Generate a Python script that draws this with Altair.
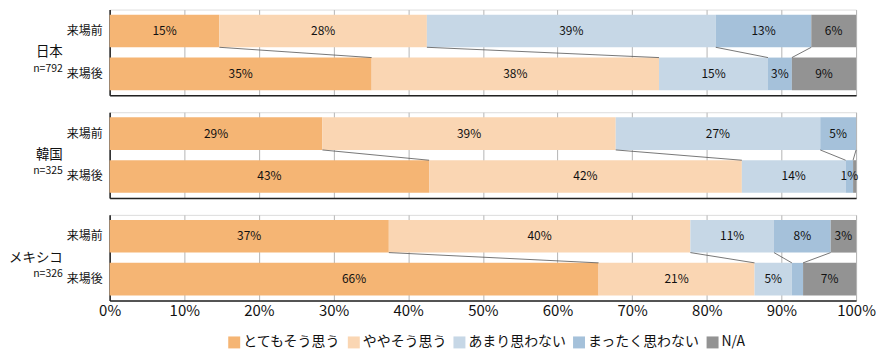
import altair as alt
import pandas as pd

FONT = "Noto Sans CJK JP"

groups = ["日本", "韓国", "メキシコ"]
ns = ["n=792", "n=325", "n=326"]
periods = ["来場前", "来場後"]
categories = ["とてもそう思う", "ややそう思う", "あまり思わない", "まったく思わない", "N/A"]
colors = ["#F5B574", "#FAD6B3", "#C6D7E6", "#A5C1DA", "#939393"]

jp_before = [14.7, 27.8, 38.7, 12.8, 6.0]
jp_after = [35.1, 38.5, 14.6, 3.2, 8.6]
kr_before = [28.5, 39.3, 27.4, 4.8, 0.0]
kr_after = [42.8, 41.9, 13.9, 1.0, 0.4]
mx_before = [37.4, 40.4, 11.2, 7.6, 3.4]
mx_after = [65.5, 20.9, 5.0, 1.5, 7.1]

jp_before_lbl = ["15%", "28%", "39%", "13%", "6%"]
jp_after_lbl = ["35%", "38%", "15%", "3%", "9%"]
kr_before_lbl = ["29%", "39%", "27%", "5%", ""]
kr_after_lbl = ["43%", "42%", "14%", "1%", ""]
mx_before_lbl = ["37%", "40%", "11%", "8%", "3%"]
mx_after_lbl = ["66%", "21%", "5%", "", "7%"]

values = {
    "日本": (jp_before, jp_after, jp_before_lbl, jp_after_lbl),
    "韓国": (kr_before, kr_after, kr_before_lbl, kr_after_lbl),
    "メキシコ": (mx_before, mx_after, mx_before_lbl, mx_after_lbl),
}

PAD = 0.12
W, H = 749, 86


def panel(gi, last):
    g = groups[gi]
    before, after, lb, la = values[g]
    rows = []
    for pi, (vals, lbls) in enumerate([(before, lb), (after, la)]):
        s = 0.0
        for ci, (v, t) in enumerate(zip(vals, lbls)):
            rows.append(dict(period=periods[pi], cat=categories[ci], order=ci,
                             start=s, end=s + v, label=t, idx=pi))
            s += v
    df = pd.DataFrame(rows)
    conn = []
    sb = sa = 0.0
    for k in range(4):
        sb += before[k]
        sa += after[k]
        conn.append(dict(xb=sb, xa=sa))
    cdf = pd.DataFrame(conn)
    pdf = pd.DataFrame(dict(period=periods, idx=[0, 1]))
    gdf = pd.DataFrame(dict(group=[g], n=[ns[gi]]))

    yscale = alt.Scale(domain=[0, 2], reverse=True, nice=False, zero=False)
    if last:
        xaxis = alt.Axis(values=list(range(0, 101, 10)), labelExpr="datum.value + '%'",
                         title=None, ticks=False, labelFontSize=15, labelPadding=3,
                         labelFlush=False, labelOverlap=False,
                         labelFont=FONT, labelColor="#111", grid=True,
                         gridColor="#b5b5b5", domainColor="#222", domainWidth=1.5)
    else:
        xaxis = alt.Axis(values=list(range(0, 101, 10)), labels=False, title=None,
                         ticks=False, grid=True, gridColor="#b5b5b5",
                         domainColor="#222", domainWidth=1.5)
    xscale = alt.Scale(domain=[0, 100], nice=False)

    base = alt.Chart(df).transform_calculate(
        y0=f"datum.idx + {PAD}", y1=f"datum.idx + 1 - {PAD}",
        ym="datum.idx + 0.5", mid="(datum.start + datum.end) / 2")

    bars = base.mark_bar(strokeWidth=0).encode(
        x=alt.X("start:Q", scale=xscale, axis=xaxis),
        x2="end:Q",
        y=alt.Y("y0:Q", scale=yscale,
                axis=alt.Axis(labels=False, ticks=False, grid=False, title=None,
                              domainColor="#222", domainWidth=1.5)),
        y2="y1:Q",
        color=alt.Color("cat:N", scale=alt.Scale(domain=categories, range=colors),
                        legend=alt.Legend(title=None, orient="none", direction="horizontal",
                                          legendX=118, legendY=327,
                                          symbolType="square", symbolSize=144,
                                          symbolStrokeWidth=0, symbolOpacity=1,
                                          labelFontSize=14, labelFont=FONT,
                                          labelColor="#111", labelOffset=2,
                                          columnPadding=6)),
    )
    texts = base.mark_text(fontSize=12, font=FONT, color="#111").encode(
        x="mid:Q", y="ym:Q", text="label:N")
    lines = alt.Chart(cdf).mark_rule(color="#555", strokeWidth=0.8).encode(
        x="xb:Q", x2="xa:Q", y=alt.datum(1 - PAD), y2=alt.datum(1 + PAD))
    plabels = alt.Chart(pdf).transform_calculate(ym="datum.idx + 0.5").mark_text(
        align="right", baseline="middle", fontSize=12, font=FONT, color="#111").encode(
        x=alt.value(-7), y="ym:Q", text="period:N")
    gname = alt.Chart(gdf).mark_text(align="right", baseline="middle", fontSize=13.5,
                                     font=FONT, color="#111").encode(
        x=alt.value(-47), y=alt.datum(1.0), text="group:N")
    nlab = alt.Chart(gdf).mark_text(align="right", baseline="middle", fontSize=10.5,
                                    font=FONT, color="#111").encode(
        x=alt.value(-47), y=alt.datum(1.38), text="n:N")
    return alt.layer(bars, lines, texts, plabels, gname, nlab).properties(width=W, height=H)


chart = alt.vconcat(panel(0, False), panel(1, False), panel(2, True), spacing=15).properties(
    padding={"left": 0, "top": 0, "right": 0, "bottom": 0}
).configure_view(stroke=None).configure(font=FONT)

chart.save("out.html", embed_options={"renderer": "svg", "actions": False})
